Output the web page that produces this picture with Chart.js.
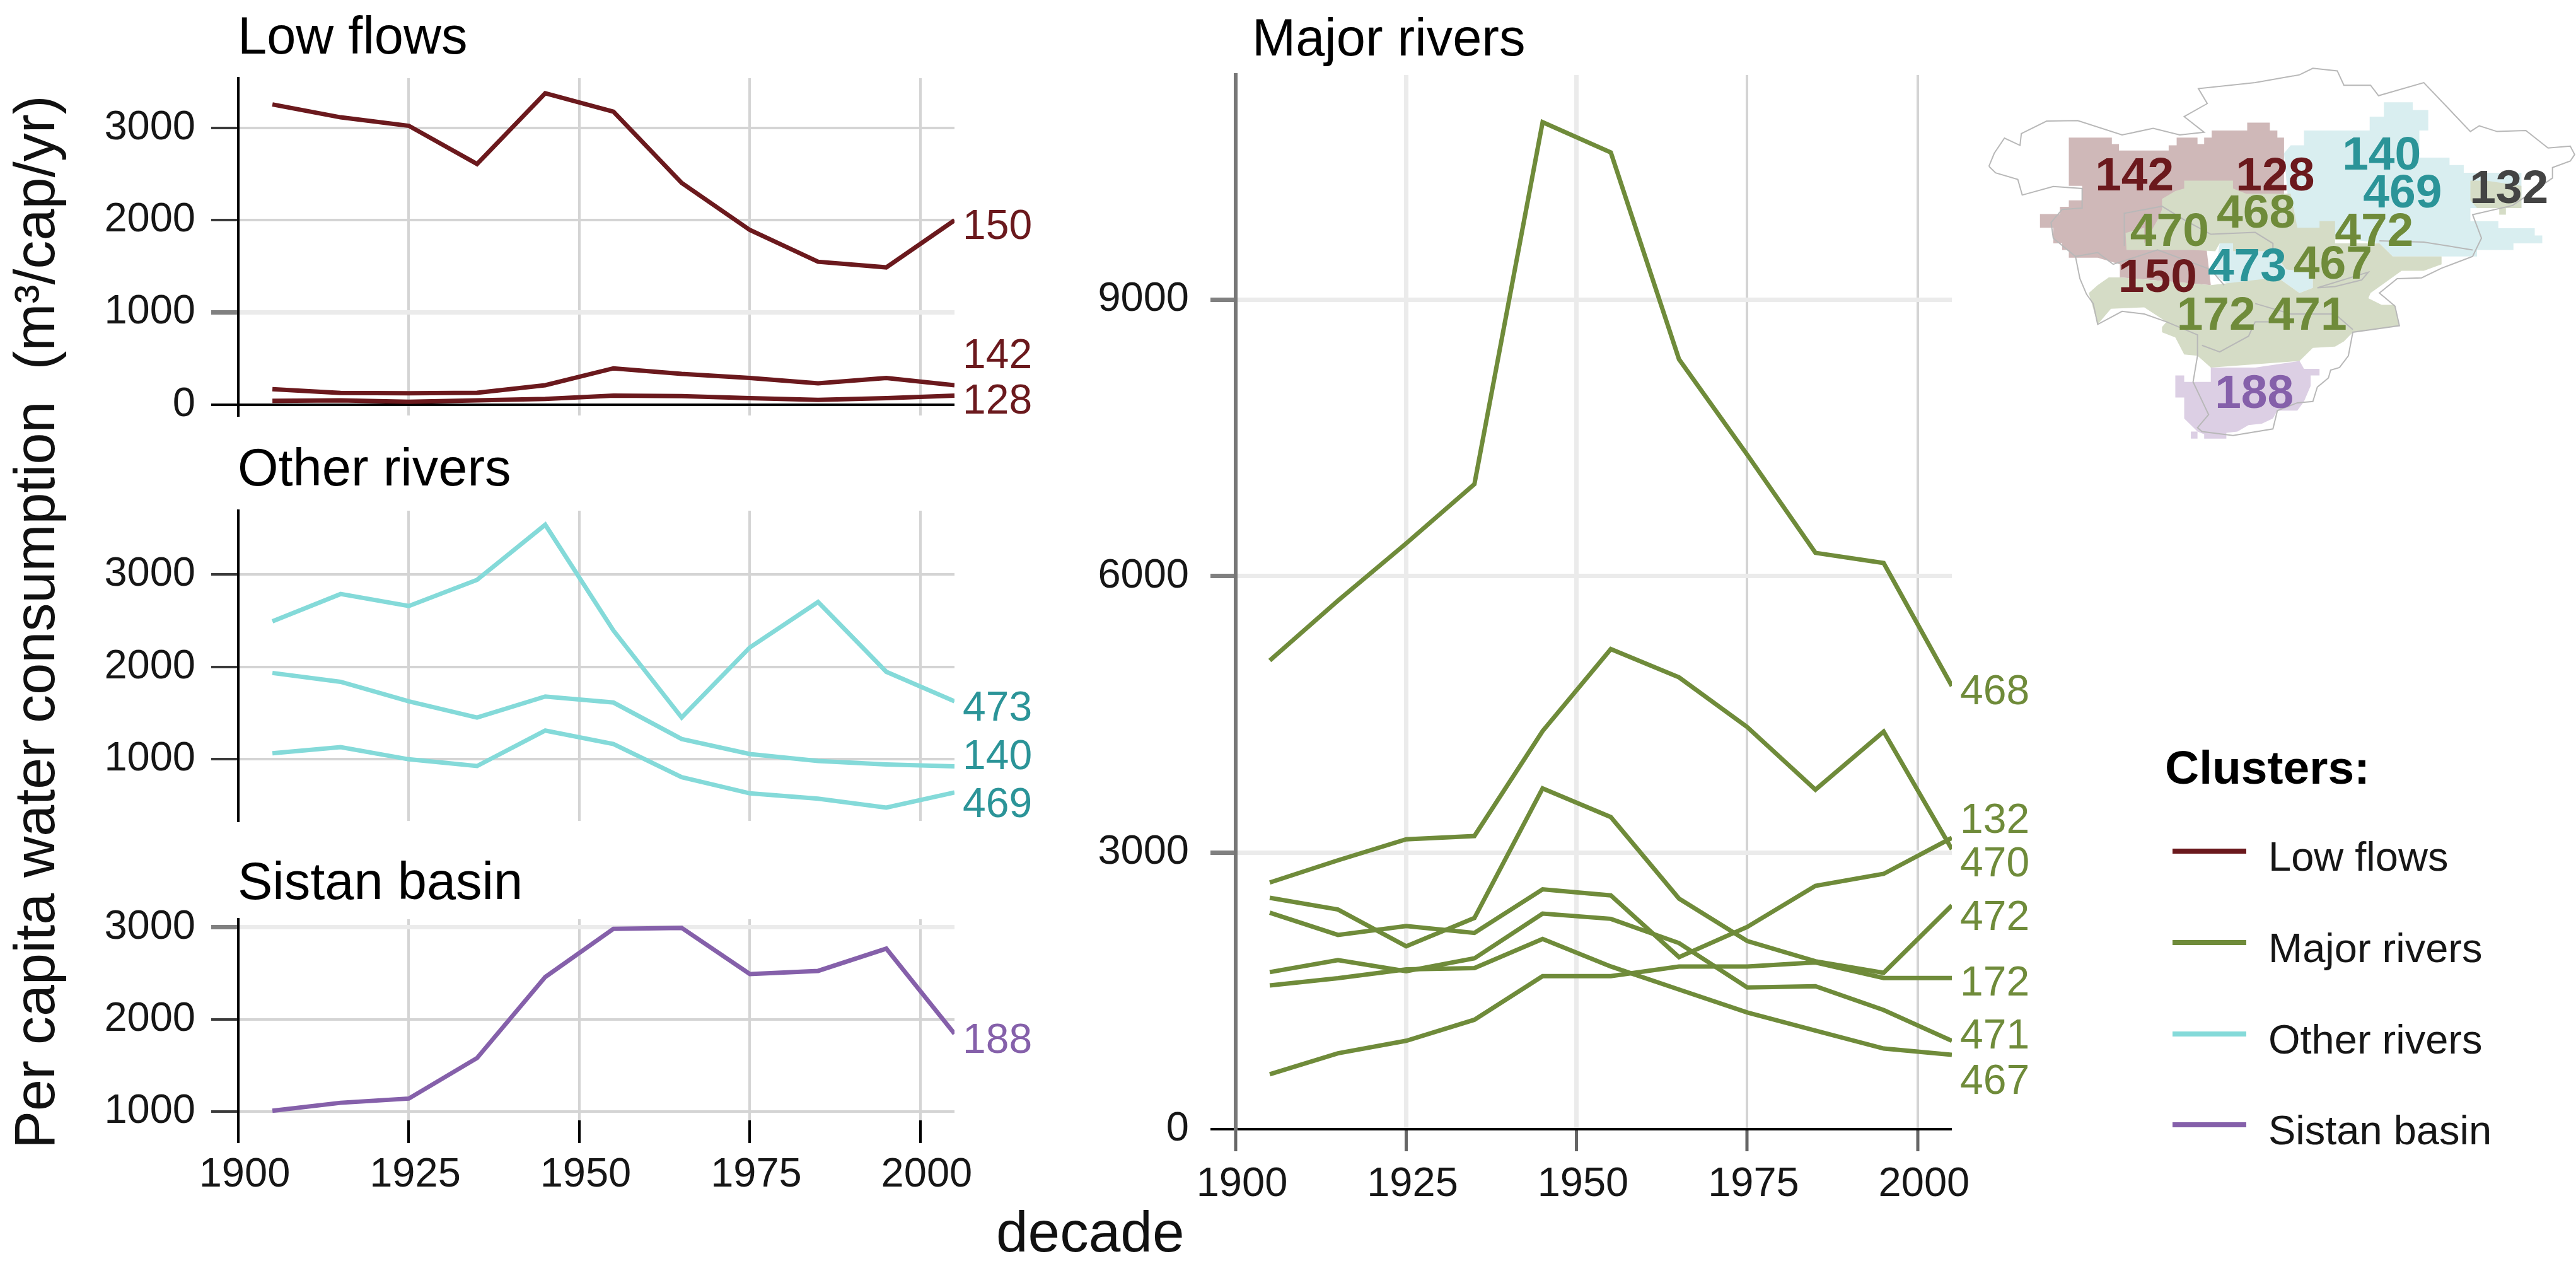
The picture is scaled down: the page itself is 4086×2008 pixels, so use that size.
<!DOCTYPE html>
<html>
<head>
<meta charset="utf-8">
<title>Per capita water consumption</title>
<script src="https://cdn.jsdelivr.net/npm/chart.js@4/dist/chart.umd.js"></script>
<style>
  html, body { margin: 0; padding: 0; background: #fff; }
  #page { position: relative; width: 4086px; height: 2008px; overflow: hidden; font-family: "Liberation Sans", Arial, sans-serif; color: #111; }
  canvas { position: absolute; }
  .txt { position: absolute; white-space: pre; line-height: 1; }
  .key { position: absolute; height: 8px; width: 117px; left: 3446px; }
  #map { position: absolute; left: 3000px; top: 100px; }
</style>
</head>
<body>
<div id="page">
  <canvas id="lowChart"></canvas>
  <canvas id="otherChart"></canvas>
  <canvas id="sistanChart"></canvas>
  <canvas id="majorChart"></canvas>
  <div id="yLabel" class="txt">Per capita water consumption  (m³/cap/yr)</div>
  <div id="xLabel" class="txt">decade</div>
  <div id="legend"></div>
  <svg id="map" width="1086" height="650" viewBox="0 0 1086 650"></svg>
</div>
<script>
// data
const decades = [1905, 1915, 1925, 1935, 1945, 1955, 1965, 1975, 1985, 1995, 2005];
const xTicks = [1900, 1925, 1950, 1975, 2000];
const lowTicks = [0, 1000, 2000, 3000];
const otherTicks = [1000, 2000, 3000];
const sistanTicks = [1000, 1500, 2000, 2500, 3000];
const majorTicks = [0, 3000, 6000, 9000];

const low150 = [3258, 3118, 3026, 2611, 3380, 3179, 2406, 1895, 1550, 1489, 2000];
const low142 = [166, 125, 122, 127, 210, 393, 332, 288, 231, 288, 210];
const low128 = [40, 45, 30, 45, 60, 96, 92, 70, 50, 70, 96];

const other473 = [2492, 2788, 2658, 2941, 3537, 2393, 1452, 2210, 2701, 1947, 1627];
const other140 = [1934, 1838, 1627, 1452, 1679, 1614, 1220, 1057, 982, 945, 924];
const other469 = [1065, 1132, 1000, 927, 1311, 1166, 807, 632, 574, 478, 641];

const sistan188 = [1009, 1095, 1141, 1581, 2462, 2985, 2995, 2493, 2528, 2770, 1846];

const major468 = [5084, 5733, 6354, 6997, 10923, 10595, 8352, 7316, 6252, 6142, 4808];
const major470 = [2676, 2917, 3145, 3180, 4319, 5208, 4901, 4362, 3683, 4313, 3037];
const major472 = [2510, 2383, 1984, 2291, 3697, 3386, 2501, 2041, 1822, 1696, 2428];
const major132 = [2348, 2107, 2203, 2129, 2602, 2536, 1866, 2194, 2640, 2770, 3160];
const major471 = [1704, 1835, 1713, 1853, 2339, 2282, 2019, 1537, 1551, 1293, 958];
const major467 = [1559, 1638, 1734, 1748, 2063, 1765, 1515, 1266, 1069, 875, 807];
const major172 = [596, 823, 959, 1187, 1660, 1660, 1765, 1765, 1809, 1640, 1640];

const legendNames = ['Low flows', 'Major rivers', 'Other rivers', 'Sistan basin'];

const RED = '#6b191d', GREEN = '#6f8b3a', TEAL = '#84dad9', TEAL_TXT = '#2b9498', PURPLE = '#8560aa';
const FONT = '"Liberation Sans", Arial, sans-serif';

// panel title plus the cluster ids at the right hand end of the lines
const panelTextPlugin = {
  id: 'panelText',
  afterDatasetsDraw(chart, args, opts) {
    const ctx = chart.ctx;
    ctx.save();
    ctx.textBaseline = 'alphabetic';
    ctx.font = '83px ' + FONT;
    ctx.fillStyle = '#000';
    ctx.fillText(opts.title, opts.titleX - opts.canvasLeft, opts.titleY - opts.canvasTop);
    ctx.font = '66px ' + FONT;
    ctx.fillStyle = opts.color;
    opts.names.forEach((name, i) => {
      ctx.fillText(name, chart.chartArea.right + 13, opts.baselines[i] - opts.canvasTop);
    });
    ctx.restore();
  }
};

function makePanel(id, p) {
  const canvas = document.getElementById(id);
  const width = p.right + p.padRight - p.canvasLeft;
  const height = p.bottom + p.xHeight - p.canvasTop;
  canvas.width = width;
  canvas.height = height;
  canvas.style.left = p.canvasLeft + 'px';
  canvas.style.top = p.canvasTop + 'px';
  canvas.style.width = width + 'px';
  canvas.style.height = height + 'px';

  const isThick = v => p.thick.includes(v);
  const noLabel = v => p.hidden.includes(v);

  return new Chart(canvas.getContext('2d'), {
    type: 'line',
    data: {
      labels: decades,
      datasets: p.series.map(s => ({
        data: s.map((v, i) => ({ x: decades[i], y: v })),
        borderColor: p.color,
        borderWidth: 7,
        borderJoinStyle: 'miter',
        tension: 0,
        pointRadius: 0
      }))
    },
    plugins: [panelTextPlugin],
    options: {
      responsive: false,
      animation: false,
      devicePixelRatio: 1,
      layout: { padding: { left: 0, right: p.padRight, top: p.top - p.canvasTop, bottom: 0 } },
      plugins: {
        legend: { display: false },
        tooltip: { enabled: false },
        panelText: {
          title: p.title, titleX: p.titleX, titleY: p.titleY,
          names: p.names, baselines: p.baselines, color: p.labelColor,
          canvasTop: p.canvasTop, canvasLeft: p.canvasLeft
        }
      },
      scales: {
        x: {
          type: 'linear',
          min: 1900,
          max: 2005,
          afterFit(scale) { scale.height = p.xHeight; scale.paddingLeft = 0; scale.paddingRight = 0; },
          afterBuildTicks(scale) { scale.ticks = xTicks.map(v => ({ value: v })); },
          border: { display: false },
          grid: {
            color: ctx => p.thickX.includes(ctx.tick && ctx.tick.value) ? '#ebebeb' : '#d4d4d4',
            lineWidth: ctx => p.thickX.includes(ctx.tick && ctx.tick.value) ? 7 : 4,
            drawTicks: p.showX,
            tickLength: p.xTickLength,
            tickColor: p.xTickColor,
            tickWidth: p.xTickWidth
          },
          ticks: {
            display: p.showX,
            autoSkip: false,
            maxRotation: 0,
            padding: p.xPadding,
            labelOffset: 10,
            color: '#161616',
            font: { family: FONT, size: 65 },
            callback: v => String(v)
          }
        },
        y: {
          type: 'linear',
          min: p.yMin,
          max: p.yMax,
          afterFit(scale) { scale.width = p.left - p.canvasLeft; scale.paddingTop = 0; scale.paddingBottom = 0; },
          afterBuildTicks(scale) { scale.ticks = p.yTicks.map(v => ({ value: v })); },
          border: { color: p.axisColor, width: p.axisWidth },
          grid: {
            color: ctx => ctx.tick.value === 0 ? '#000' : isThick(ctx.tick.value) ? '#ebebeb' : '#d4d4d4',
            lineWidth: ctx => ctx.tick.value === 0 ? 4 : isThick(ctx.tick.value) ? 7 : 4,
            tickLength: p.yTickLength,
            tickColor: ctx => noLabel(ctx.tick.value) ? 'rgba(0,0,0,0)' : ctx.tick.value === 0 ? '#000' : isThick(ctx.tick.value) ? '#808080' : '#3a3a3a',
            tickWidth: ctx => isThick(ctx.tick.value) ? 7 : 4
          },
          ticks: {
            padding: p.yPadding,
            color: '#161616',
            font: { family: FONT, size: 65 },
            callback: v => noLabel(v) ? '' : String(v)
          }
        }
      }
    }
  });
}

const leftPanel = {
  canvasLeft: 150, left: 378, right: 1514, padRight: 146, color: RED, labelColor: RED, titleX: 377,
  axisColor: '#000', axisWidth: 4, yTickLength: 43, yPadding: 25,
  thickX: [], thick: [], hidden: [], showX: false, xHeight: 11, xTickLength: 0,
  xTickColor: '#000', xTickWidth: 4, xPadding: 0
};

makePanel('lowChart', Object.assign({}, leftPanel, {
  title: 'Low flows', titleY: 85, canvasTop: 7, top: 124, bottom: 659,
  yMin: -119, yMax: 3543, yTicks: lowTicks, thick: [1000],
  series: [low150, low142, low128],
  names: ['150', '142', '128'], baselines: [379, 584, 656]
}));

makePanel('otherChart', Object.assign({}, leftPanel, {
  title: 'Other rivers', titleY: 770, canvasTop: 694, top: 810, bottom: 1302,
  yMin: 334, yMax: 3689, yTicks: otherTicks, color: TEAL, labelColor: TEAL_TXT,
  series: [other473, other140, other469],
  names: ['473', '140', '469'], baselines: [1143, 1220, 1296]
}));

makePanel('sistanChart', Object.assign({}, leftPanel, {
  title: 'Sistan basin', titleY: 1426, canvasTop: 1348, top: 1458, bottom: 1777,
  yMin: 904, yMax: 3089, yTicks: sistanTicks, color: PURPLE, labelColor: PURPLE,
  thick: [3000, 2500], hidden: [2500, 1500],
  showX: true, xHeight: 123, xTickLength: 36, xPadding: 12,
  series: [sistan188],
  names: ['188'], baselines: [1670]
}));

makePanel('majorChart', {
  title: 'Major rivers', titleX: 1986, titleY: 88, canvasTop: 10, top: 119, canvasLeft: 1700, left: 1960, right: 3096, bottom: 1791,
  padRight: 146, color: GREEN, labelColor: GREEN,
  axisColor: '#777', axisWidth: 6, yTickLength: 40, yPadding: 34,
  yMin: 0, yMax: 11435, yTicks: majorTicks,
  thickX: [1925, 1950], thick: [3000, 6000, 9000], hidden: [],
  showX: true, xHeight: 125, xTickLength: 35, xTickColor: '#666', xTickWidth: 5, xPadding: 14,
  series: [major468, major470, major472, major132, major471, major467, major172],
  names: ['468', '132', '470', '472', '172', '471', '467'],
  baselines: [1117, 1321, 1390, 1475, 1579, 1663, 1735]
});

// shared axis titles
const yLabel = document.getElementById('yLabel');
yLabel.style.cssText = 'font-size:90px;color:#111;left:92px;top:1822px;transform-origin:0 0;transform:rotate(-90deg) translateY(-82px);';
const xLabel = document.getElementById('xLabel');
xLabel.style.cssText = 'font-size:91px;color:#111;left:1580px;top:1908px;';

// legend
const legendColors = [RED, GREEN, TEAL, PURPLE];
const legendKeyY = [1350, 1495, 1640, 1784];
const legend = document.getElementById('legend');
legend.innerHTML = '<div class="txt" style="left:3434px;top:1180px;font-size:75px;font-weight:bold;color:#000">Clusters:</div>' +
  legendNames.map((name, i) =>
    '<div class="key" style="top:' + (legendKeyY[i] - 4) + 'px;background:' + legendColors[i] + '"></div>' +
    '<div class="txt" style="left:3598px;top:' + (legendKeyY[i] - 24) + 'px;font-size:65px;color:#161616">' + name + '</div>'
  ).join('');

// inset map, shapes (crop coordinates, scaled below)
const mapFills = [
  ['#cfb8b8', '400,285 497,285 497,310 513,310 513,335 625,335 625,315 643,315 643,285 690,285 690,310 705,310 705,285 722,285 722,258 802,258 802,228 853,228 853,258 870,258 870,285 885,285 885,520 700,560 720,850 515,820 515,770 465,745 400,745 400,715 385,715 385,690 365,690 365,630 335,630 335,578 380,578 380,550 400,550 400,525 430,525 430,470 400,470'],
  ['#d9eef0', '885,345 900,315 930,315 930,258 1078,258 1078,205 1110,205 1110,150 1175,150 1175,180 1210,180 1210,258 1190,258 1190,362 1258,362 1258,390 1290,390 1290,420 1420,420 1420,555 1305,555 1305,605 1368,605 1368,632 1450,632 1450,660 1467,660 1467,690 1402,690 1402,715 1320,715 1320,740 1130,740 1100,690 900,640'],
  ['#d9eef0', '740,690 770,690 770,720 860,720 890,790 950,800 950,860 920,880 870,820 760,850 730,810'],
  ['#d5dcc6', '610,520 640,490 660,480 660,450 770,450 770,480 800,500 900,500 915,630 965,630 965,605 1000,605 1000,690 1100,690 1130,740 1240,740 1240,770 1200,795 1150,795 1105,850 1080,880 1075,900 1105,925 1135,925 1145,1005 1040,1030 1020,1065 1000,1085 950,1090 920,1140 720,1165 690,1120 660,1115 640,1050 610,1030 610,1010 620,990 570,935 495,940 465,1000 445,880 465,850 490,820 515,820 720,850 745,845 870,820 920,880 950,860 950,800 890,790 860,720 770,720 770,690 740,690 730,720 680,715 600,715 530,715 528,650 570,630 570,690 600,600 610,560'],
  ['#d5dcc6', '1305,450 1340,450 1420,470 1420,555 1385,555 1385,580 1370,580 1370,555 1320,555 1305,525'],
  ['#dccfe4', '720,1165 820,1165 920,1140 930,1170 965,1170 965,1195 945,1195 945,1235 930,1295 915,1330 870,1330 860,1360 835,1380 805,1385 780,1410 755,1415 755,1437 705,1437 705,1420 690,1410 660,1360 660,1280 640,1280 640,1195 660,1195 660,1220 720,1220'],
  ['#dccfe4', '675,1410 690,1410 690,1437 675,1437']
];
const mapOutlines = [
  '220,395 232,345 255,287 290,315 293,270 350,222 420,220 520,275 590,250 650,275 705,265 660,205 712,155 692,98 820,75 920,45 950,20 1005,30 1020,85 1080,85 1098,125 1200,75 1305,262 1325,240 1365,262 1430,258 1480,325 1530,318 1540,350 1530,375 1490,400 1490,440 1400,545 1310,580 1330,670 1310,740 1240,785 1195,822 1140,825 1100,880 1135,930 1145,1005 1040,1030 1030,1120 1010,1165 990,1175 985,1205 960,1240 950,1295 915,1300 870,1330 860,1400 770,1425 700,1410 690,1395 715,1345 680,1220 690,1120 690,1040 620,990 570,960 520,950 465,1000 455,920 440,885 425,825 415,740 365,670 360,610 385,560 430,555 430,480 365,472 295,505 285,445 235,420 220,395',
  '525,700 525,575 610,548 660,600 720,655 820,648 860,690 860,730',
  '1100,680 1200,685 1310,715',
  '750,850 720,790 600,715 500,770 465,725 415,740',
  '960,860 1075,800 1060,830 1000,855 960,860',
  '820,920 900,960 1000,960 1040,1020',
  '700,1080 740,1105 805,1045 820,990 875,990'
];
const mapNames = ['142', '128', '140', '469', '132', '468', '470', '472', '473', '467', '150', '172', '471', '188'];
const mapNameColors = [RED, RED, TEAL_TXT, TEAL_TXT, '#444', GREEN, GREEN, GREEN, TEAL_TXT, GREEN, RED, GREEN, GREEN, PURPLE];
const mapNameX = [548, 865, 1105, 1152, 1392, 822, 627, 1088, 802, 995, 600, 732, 938, 818];
const mapNameY = [487, 487, 408, 553, 535, 630, 700, 700, 835, 825, 875, 1020, 1020, 1320];

const sx = 1086 / 1543, sy = 650 / 1568;
let mapSvg = '<g transform="scale(' + sx + ',' + sy + ')">';
mapFills.forEach(f => { mapSvg += '<polygon fill="' + f[0] + '" points="' + f[1] + '"/>'; });
mapOutlines.forEach(o => { mapSvg += '<polyline fill="none" stroke="#b8b8b8" stroke-width="2" vector-effect="non-scaling-stroke" points="' + o + '"/>'; });
mapSvg += '</g>';
mapNames.forEach((n, i) => {
  mapSvg += '<text x="' + (mapNameX[i] * sx) + '" y="' + (mapNameY[i] * sy) + '" text-anchor="middle" font-family="Liberation Sans" font-weight="bold" font-size="75" fill="' + mapNameColors[i] + '">' + n + '</text>';
});
document.getElementById('map').innerHTML = mapSvg;
</script>
</body>
</html>
